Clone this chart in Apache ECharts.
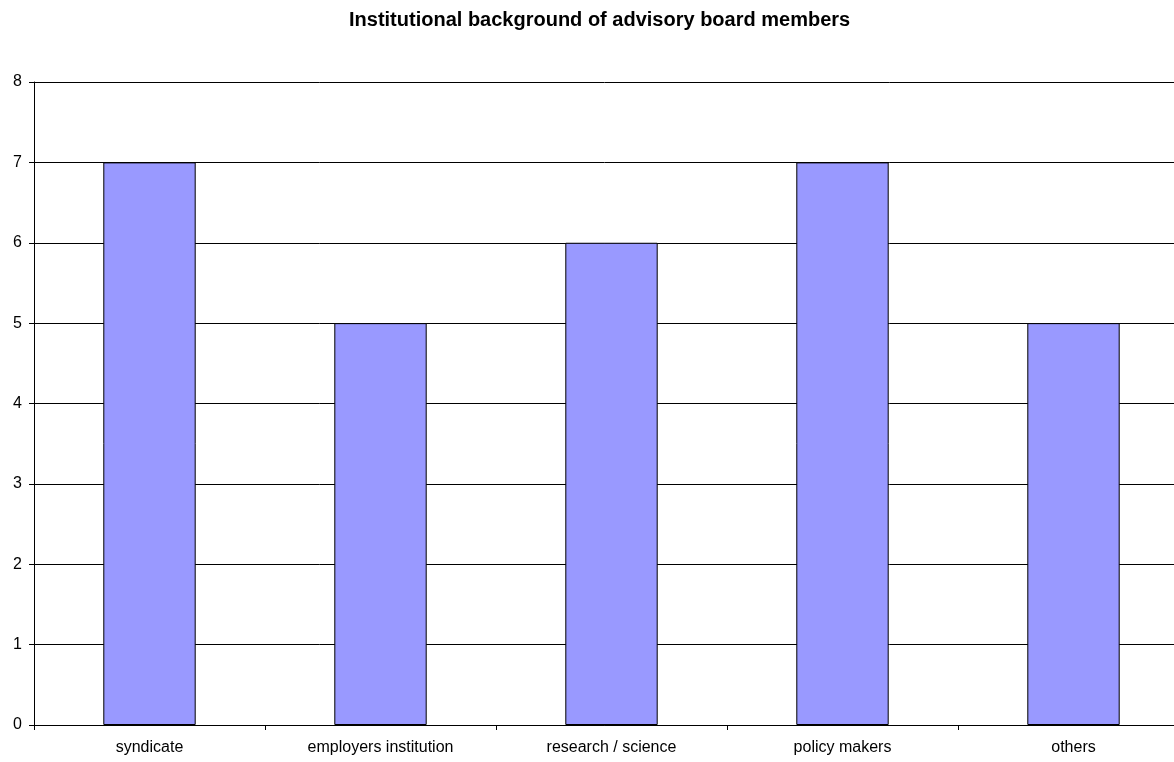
<!DOCTYPE html>
<html>
<head>
<meta charset="utf-8">
<script src="https://cdn.jsdelivr.net/npm/echarts@6/dist/echarts.min.js"></script>
<style>
  html, body { margin: 0; padding: 0; background: #fff; }
  #chart { width: 1174px; height: 762px; }
</style>
</head>
<body>
<div id="chart"></div>
<script>
// Advisory board members by institutional background
const categories = ['syndicate', 'employers institution', 'research / science', 'policy makers', 'others'];
const members = [7, 5, 6, 7, 5];
const yTicks = { min: 0, max: 8, interval: 1 };

const fontFamily = 'Liberation Sans, Arial, sans-serif';

const chart = echarts.init(document.getElementById('chart'), null, { renderer: 'canvas' });
chart.setOption({
  animation: false,
  backgroundColor: '#ffffff',
  title: {
    text: 'Institutional background of advisory board members',
    left: 344,
    top: 5,
    textStyle: { fontFamily, fontSize: 20, fontWeight: 'bold', color: '#000' }
  },
  // the plot runs slightly past the right edge of the page
  grid: {
    left: 34, top: 82, width: 1155, height: 643,
    containLabel: false,
    outerBoundsMode: 'none'
  },
  xAxis: {
    type: 'category',
    data: categories,
    axisLine: { lineStyle: { color: '#000', width: 1 } },
    axisTick: { show: true, alignWithLabel: false, length: 5, lineStyle: { color: '#000' } },
    axisLabel: { fontFamily, fontSize: 16, color: '#000', margin: 15 },
    splitLine: { show: false }
  },
  yAxis: {
    type: 'value',
    min: yTicks.min,
    max: yTicks.max,
    interval: yTicks.interval,
    axisLine: { show: true, lineStyle: { color: '#000', width: 1 } },
    axisTick: { show: true, length: 5, lineStyle: { color: '#000' } },
    axisLabel: { fontFamily, fontSize: 16, color: '#000', margin: 12 },
    splitLine: { show: true, lineStyle: { color: '#000', width: 1 } }
  },
  series: [{
    type: 'bar',
    data: members,
    barCategoryGap: '60%',
    itemStyle: { color: '#9999ff', borderColor: '#000', borderWidth: 1 }
  }]
});
</script>
</body>
</html>
